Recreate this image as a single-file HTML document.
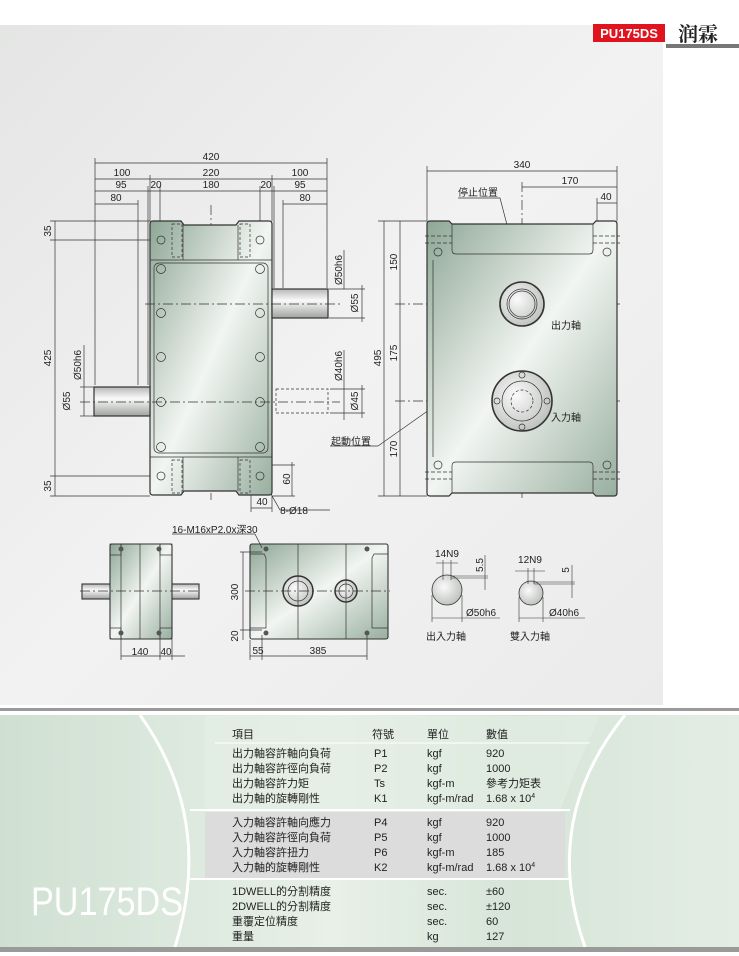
<!DOCTYPE html>
<html><head><meta charset="utf-8"><style>
html,body{margin:0;padding:0;background:#fff;}
svg{display:block;}
text{font-family:"Liberation Sans","Noto Sans CJK TC",sans-serif;}
</style></head><body>
<svg width="739" height="956" viewBox="0 0 739 956" xmlns="http://www.w3.org/2000/svg">
<defs>
<linearGradient id="bg" x1="0" y1="0" x2="1" y2="1">
<stop offset="0" stop-color="#e4e5e4"/><stop offset="0.5" stop-color="#f2f2f2"/><stop offset="1" stop-color="#ebebeb"/>
</linearGradient>
<linearGradient id="body" x1="0" y1="0" x2="1" y2="1">
<stop offset="0" stop-color="#8ea795"/><stop offset="0.5" stop-color="#f2f5f2"/><stop offset="1" stop-color="#98af9f"/>
</linearGradient>
<linearGradient id="shaft" x1="0" y1="0" x2="0" y2="1">
<stop offset="0" stop-color="#b5b8b5"/><stop offset="0.4" stop-color="#fafafa"/><stop offset="1" stop-color="#9fa39f"/>
</linearGradient>
<radialGradient id="circ" cx="0.4" cy="0.4" r="0.7">
<stop offset="0" stop-color="#fafafa"/><stop offset="1" stop-color="#b8bcb8"/>
</radialGradient>
<linearGradient id="tbl" x1="0" y1="0" x2="1" y2="0">
<stop offset="0" stop-color="#cfe0d2"/><stop offset="0.45" stop-color="#e8f0e8"/><stop offset="0.7" stop-color="#d6e5d8"/><stop offset="1" stop-color="#e4ede4"/>
</linearGradient>
</defs>

<rect x="0" y="25" width="663" height="680" fill="url(#bg)"/>
<rect x="593" y="24" width="72" height="18" fill="#e0141e"/>
<text x="629" y="38" font-size="13" font-weight="bold" fill="#fff" text-anchor="middle">PU175DS</text>
<text x="678" y="41" font-size="20" font-weight="bold" fill="#222" style="font-family:'Noto Serif CJK SC',serif">润霖</text>
<rect x="666" y="44" width="73" height="4" fill="#777"/>

<g stroke="#333" stroke-width="0.7" fill="none" font-size="10">
<line x1="95" y1="163" x2="327" y2="163"/>
<line x1="95" y1="179" x2="327" y2="179"/>
<line x1="95" y1="191" x2="327" y2="191"/>
<line x1="95" y1="204" x2="138" y2="204"/><line x1="283" y1="204" x2="327" y2="204"/>
<line x1="95" y1="158" x2="95" y2="385"/><line x1="327" y1="158" x2="327" y2="288"/>
<line x1="150" y1="175" x2="150" y2="221"/><line x1="272" y1="175" x2="272" y2="221"/>
<line x1="148" y1="186" x2="148" y2="385"/><line x1="274" y1="186" x2="274" y2="288"/>
<line x1="160" y1="186" x2="160" y2="235"/><line x1="260" y1="186" x2="260" y2="235"/>
<line x1="138" y1="200" x2="138" y2="385"/><line x1="283" y1="200" x2="283" y2="288"/>
<line x1="211" y1="205" x2="211" y2="500" stroke-dasharray="10 3 2 3"/>
<line x1="55" y1="221" x2="55" y2="496"/>
<line x1="50" y1="221" x2="150" y2="221"/><line x1="50" y1="240" x2="158" y2="240"/>
<line x1="50" y1="476" x2="158" y2="476"/><line x1="50" y1="496" x2="150" y2="496"/>
<line x1="84" y1="387" x2="84" y2="416"/><line x1="80" y1="387" x2="94" y2="387"/><line x1="80" y1="416" x2="94" y2="416"/>
<line x1="84" y1="345" x2="84" y2="387"/>
<line x1="329" y1="289" x2="365" y2="289"/><line x1="329" y1="318" x2="365" y2="318"/>
<line x1="362" y1="285" x2="362" y2="322"/><line x1="344" y1="250" x2="344" y2="289"/>
<line x1="330" y1="389" x2="365" y2="389"/><line x1="330" y1="413" x2="365" y2="413"/>
<line x1="362" y1="385" x2="362" y2="418"/><line x1="344" y1="350" x2="344" y2="420"/>
<line x1="261" y1="465" x2="295" y2="465"/><line x1="292" y1="462" x2="292" y2="496"/><line x1="272" y1="496" x2="295" y2="496"/>
<line x1="251" y1="485" x2="251" y2="512"/><line x1="272" y1="496" x2="272" y2="512"/><line x1="251" y1="508" x2="272" y2="508"/>
<polyline points="262,478 280,510 330,510"/>
<line x1="330" y1="446" x2="378" y2="446"/>
<polyline points="378,446 490,367 514,390"/>
</g>

<g stroke="#333" stroke-width="1.2">
<path d="M150,224 Q150,221 153,221 L181,221 L184,225 L236,225 L239,221 L269,221 Q272,221 272,224 L272,492 Q272,495 269,495 L239,495 L236,491 L184,491 L181,495 L153,495 Q150,495 150,492 Z" fill="url(#body)"/>
<rect x="94" y="387" width="56" height="29" fill="url(#shaft)"/>
<rect x="272" y="289" width="56" height="29" fill="url(#shaft)"/>
</g>
<g stroke="#333" stroke-width="0.7" fill="none">
<line x1="150" y1="260" x2="272" y2="260"/><line x1="150" y1="457" x2="272" y2="457"/>
<line x1="183" y1="225" x2="183" y2="260"/><line x1="238" y1="225" x2="238" y2="260"/>
<line x1="183" y1="457" x2="183" y2="491"/><line x1="238" y1="457" x2="238" y2="491"/>
<rect x="154" y="263" width="114" height="190" rx="5"/>
<g stroke-dasharray="3 2"><rect x="172" y="224" width="10" height="33"/><rect x="240" y="224" width="10" height="33"/><rect x="172" y="460" width="10" height="33"/><rect x="240" y="460" width="10" height="33"/>
<rect x="276" y="389" width="52" height="24"/></g>
<line x1="80" y1="402" x2="340" y2="402" stroke-dasharray="10 3 2 3"/>
<line x1="145" y1="304" x2="340" y2="304" stroke-dasharray="10 3 2 3"/>
<g><circle cx="161" cy="269" r="4.5"/><circle cx="260" cy="269" r="4.5"/><circle cx="161" cy="313" r="4.5"/><circle cx="260" cy="313" r="4.5"/><circle cx="161" cy="357" r="4.5"/><circle cx="260" cy="357" r="4.5"/><circle cx="161" cy="402" r="4.5"/><circle cx="260" cy="402" r="4.5"/><circle cx="161" cy="447" r="4.5"/><circle cx="260" cy="447" r="4.5"/>
<circle cx="161" cy="240" r="4"/><circle cx="260" cy="240" r="4"/><circle cx="161" cy="476" r="4"/><circle cx="260" cy="476" r="4"/></g>
</g>
<g font-size="10" fill="#222">
<text x="211" y="160" text-anchor="middle">420</text>
<text x="122" y="176" text-anchor="middle">100</text><text x="211" y="176" text-anchor="middle">220</text><text x="300" y="176" text-anchor="middle">100</text>
<text x="121" y="188" text-anchor="middle">95</text><text x="156" y="188" text-anchor="middle">20</text><text x="211" y="188" text-anchor="middle">180</text><text x="266" y="188" text-anchor="middle">20</text><text x="300" y="188" text-anchor="middle">95</text>
<text x="116" y="201" text-anchor="middle">80</text><text x="305" y="201" text-anchor="middle">80</text>
<text transform="translate(51,231) rotate(-90)" text-anchor="middle">35</text>
<text transform="translate(51,358) rotate(-90)" text-anchor="middle">425</text>
<text transform="translate(51,486) rotate(-90)" text-anchor="middle">35</text>
<text transform="translate(81,365) rotate(-90)" text-anchor="middle">Ø50h6</text>
<text transform="translate(70,401) rotate(-90)" text-anchor="middle">Ø55</text>
<text transform="translate(342,270) rotate(-90)" text-anchor="middle">Ø50h6</text>
<text transform="translate(358,303) rotate(-90)" text-anchor="middle">Ø55</text>
<text transform="translate(342,366) rotate(-90)" text-anchor="middle">Ø40h6</text>
<text transform="translate(358,401) rotate(-90)" text-anchor="middle">Ø45</text>
<text transform="translate(290,479) rotate(-90)" text-anchor="middle">60</text>
<text x="262" y="505" text-anchor="middle">40</text>
<text x="294" y="514" text-anchor="middle">8-Ø18</text>
<text x="331" y="445">起動位置</text>
</g>

<g stroke="#333" stroke-width="0.7" fill="none">
<line x1="427" y1="171" x2="617" y2="171"/><line x1="522" y1="187" x2="617" y2="187"/><line x1="597" y1="203" x2="617" y2="203"/>
<line x1="427" y1="166" x2="427" y2="221"/><line x1="617" y1="166" x2="617" y2="221"/><line x1="522" y1="182" x2="522" y2="500" stroke-dasharray="10 3 2 3"/><line x1="597" y1="198" x2="597" y2="221"/>
<line x1="384" y1="221" x2="384" y2="496"/><line x1="400" y1="221" x2="400" y2="496"/>
<line x1="378" y1="221" x2="427" y2="221"/><line x1="378" y1="496" x2="427" y2="496"/>
<line x1="395" y1="304" x2="620" y2="304" stroke-dasharray="10 3 2 3"/>
<line x1="395" y1="401" x2="620" y2="401" stroke-dasharray="10 3 2 3"/>
<polyline points="458,198 500,198 522,282"/>
</g>
<g stroke="#333" stroke-width="1.2">
<path d="M427,224 Q427,221 430,221 L449,221 L452,224 L593,224 L596,221 L614,221 Q617,221 617,224 L617,493 Q617,496 614,496 L596,496 L593,493 L452,493 L449,496 L430,496 Q427,496 427,493 Z" fill="url(#body)"/>
<circle cx="522" cy="304" r="22" fill="url(#circ)" stroke-width="1.6"/>
<circle cx="522" cy="401" r="30" fill="url(#circ)" stroke-width="1.6"/>
</g>
<g stroke="#333" stroke-width="0.7" fill="none">
<path d="M452,224 L452,250 Q452,254 456,254 L589,254 Q593,254 593,250 L593,224"/>
<path d="M452,493 L452,466 Q452,462 456,462 L589,462 Q593,462 593,466 L593,493"/>
<line x1="433" y1="260" x2="433" y2="457"/>
<circle cx="522" cy="304" r="15"/><circle cx="522" cy="304" r="13"/>
<circle cx="522" cy="401" r="20"/><circle cx="522" cy="401" r="11" stroke-dasharray="3 2"/>
<circle cx="522" cy="375" r="3"/><circle cx="522" cy="427" r="3"/><circle cx="497" cy="401" r="3"/><circle cx="547" cy="401" r="3"/>
<circle cx="438" cy="252" r="4"/><circle cx="607" cy="252" r="4"/><circle cx="438" cy="465" r="4"/><circle cx="607" cy="465" r="4"/>
<g stroke-dasharray="4 2"><line x1="425" y1="236" x2="452" y2="236"/><line x1="425" y1="243" x2="452" y2="243"/><line x1="593" y1="236" x2="620" y2="236"/><line x1="593" y1="243" x2="620" y2="243"/>
<line x1="425" y1="472" x2="452" y2="472"/><line x1="425" y1="479" x2="452" y2="479"/><line x1="593" y1="472" x2="620" y2="472"/><line x1="593" y1="479" x2="620" y2="479"/></g>
</g>
<g font-size="10" fill="#222">
<text x="522" y="168" text-anchor="middle">340</text><text x="570" y="184" text-anchor="middle">170</text><text x="606" y="200" text-anchor="middle">40</text>
<text x="458" y="196">停止位置</text>
<text transform="translate(381,358) rotate(-90)" text-anchor="middle">495</text>
<text transform="translate(397,262) rotate(-90)" text-anchor="middle">150</text>
<text transform="translate(397,353) rotate(-90)" text-anchor="middle">175</text>
<text transform="translate(397,449) rotate(-90)" text-anchor="middle">170</text>
<text x="551" y="329">出力軸</text><text x="551" y="421">入力軸</text>
</g>

<g stroke="#333" stroke-width="1.1">
<rect x="82" y="584" width="117" height="15" fill="url(#shaft)"/>
<rect x="110" y="544" width="62" height="95" rx="2" fill="url(#body)"/>
</g>
<g stroke="#333" stroke-width="0.7" fill="none">
<line x1="121" y1="544" x2="121" y2="660"/><line x1="140" y1="544" x2="140" y2="639"/><line x1="160" y1="544" x2="160" y2="660"/><line x1="172" y1="639" x2="172" y2="660"/>
<line x1="121" y1="656" x2="185" y2="656"/><line x1="80" y1="591" x2="200" y2="591" stroke-dasharray="10 3 2 3"/>
<rect x="110" y="544" width="11" height="11"/><rect x="160" y="544" width="12" height="11"/><rect x="110" y="628" width="11" height="11"/><rect x="160" y="628" width="12" height="11"/>
</g>
<g fill="#555"><circle cx="121" cy="549" r="2.5"/><circle cx="159" cy="549" r="2.5"/><circle cx="121" cy="633" r="2.5"/><circle cx="159" cy="633" r="2.5"/></g>
<g stroke="#333" stroke-width="1.1">
<rect x="250" y="544" width="138" height="95" rx="2" fill="url(#body)"/>
<circle cx="298" cy="591" r="15" fill="url(#circ)" stroke-width="1.5"/><circle cx="346" cy="591" r="11" fill="url(#circ)" stroke-width="1.5"/>
</g>
<g stroke="#333" stroke-width="0.7" fill="none">
<path d="M250,554 L264,554 L266,558 L266,628 L250,628"/><path d="M388,554 L374,554 L372,558 L372,628 L388,628"/>
<line x1="298" y1="544" x2="298" y2="639"/><line x1="346" y1="544" x2="346" y2="639"/>
<line x1="245" y1="591" x2="390" y2="591" stroke-dasharray="10 3 2 3"/>
<circle cx="298" cy="591" r="10"/><circle cx="346" cy="591" r="7"/>
<line x1="243" y1="552" x2="243" y2="640"/><line x1="240" y1="552" x2="262" y2="552"/><line x1="240" y1="630" x2="262" y2="630"/>
<line x1="250" y1="640" x2="250" y2="660"/><line x1="262" y1="635" x2="262" y2="660"/><line x1="367" y1="635" x2="367" y2="660"/>
<line x1="250" y1="656" x2="367" y2="656"/>
<line x1="262" y1="548" x2="255" y2="534"/><line x1="172" y1="534" x2="255" y2="534"/>
</g>
<g fill="#555"><circle cx="266" cy="549" r="2.5"/><circle cx="367" cy="549" r="2.5"/><circle cx="266" cy="633" r="2.5"/><circle cx="367" cy="633" r="2.5"/></g>
<g stroke="#333" stroke-width="0.8">
<circle cx="447" cy="590" r="15" fill="url(#circ)"/><circle cx="531" cy="593" r="12" fill="url(#circ)"/>
</g>
<g stroke="#333" stroke-width="0.6" fill="none">
<line x1="443" y1="560" x2="443" y2="580"/><line x1="451" y1="560" x2="451" y2="580"/><line x1="436" y1="563" x2="458" y2="563"/>
<line x1="451" y1="576" x2="488" y2="576"/><line x1="451" y1="578" x2="488" y2="578"/><line x1="485" y1="555" x2="485" y2="590"/>
<line x1="432" y1="595" x2="432" y2="622"/><line x1="462" y1="595" x2="462" y2="622"/><line x1="432" y1="618" x2="500" y2="618"/>
<line x1="528" y1="568" x2="528" y2="584"/><line x1="534" y1="568" x2="534" y2="584"/><line x1="515" y1="571" x2="545" y2="571"/>
<line x1="534" y1="582" x2="575" y2="582"/><line x1="534" y1="584" x2="575" y2="584"/><line x1="572" y1="565" x2="572" y2="598"/>
<line x1="519" y1="597" x2="519" y2="622"/><line x1="543" y1="597" x2="543" y2="622"/><line x1="519" y1="618" x2="585" y2="618"/>
</g>
<g font-size="10" fill="#222">
<text x="172" y="533">16-M16xP2.0x深30</text>
<text x="140" y="655" text-anchor="middle">140</text><text x="166" y="655" text-anchor="middle">40</text>
<text transform="translate(238,592) rotate(-90)" text-anchor="middle">300</text>
<text transform="translate(238,636) rotate(-90)" text-anchor="middle">20</text>
<text x="258" y="654" text-anchor="middle">55</text><text x="318" y="654" text-anchor="middle">385</text>
<text x="447" y="557" text-anchor="middle">14N9</text>
<text transform="translate(483,565) rotate(-90)" text-anchor="middle">5.5</text>
<text x="466" y="616">Ø50h6</text>
<text x="530" y="563" text-anchor="middle">12N9</text>
<text transform="translate(569,570) rotate(-90)" text-anchor="middle">5</text>
<text x="549" y="616">Ø40h6</text>
<text x="426" y="640">出入力軸</text><text x="510" y="640">雙入力軸</text>
</g>

<rect x="0" y="708" width="739" height="3" fill="#9a9a9a"/>
<rect x="0" y="715" width="739" height="232" fill="url(#tbl)"/>
<path d="M205,716 L600,716 Q570,780 560,812 L205,812 Z" fill="#e4eee4" opacity="0.6"/>
<rect x="205" y="812" width="360" height="66" fill="#dcdcdc"/>
<path d="M140,715 Q215,820 175,947" stroke="#fff" stroke-width="3" fill="none"/>
<path d="M625,715 Q540,820 585,947" stroke="#fff" stroke-width="3" fill="none"/>
<line x1="215" y1="743" x2="590" y2="743" stroke="#fff" stroke-width="1"/>
<line x1="190" y1="810" x2="570" y2="810" stroke="#fff" stroke-width="2"/>
<line x1="190" y1="879" x2="570" y2="879" stroke="#fff" stroke-width="2"/>
<rect x="0" y="947" width="739" height="5" fill="#9a9a9a"/>
<text x="107" y="915" font-size="40" fill="#fff" text-anchor="middle" style="font-family:'Liberation Sans Narrow','Liberation Sans',sans-serif" textLength="152" lengthAdjust="spacingAndGlyphs">PU175DS</text>
<g font-size="11" fill="#222">
<text x="232" y="738">項目</text><text x="372" y="738">符號</text><text x="427" y="738">單位</text><text x="486" y="738">數值</text>
<text x="232" y="757">出力軸容許軸向負荷</text><text x="374" y="757">P1</text><text x="427" y="757">kgf</text><text x="486" y="757">920</text>
<text x="232" y="772">出力軸容許徑向負荷</text><text x="374" y="772">P2</text><text x="427" y="772">kgf</text><text x="486" y="772">1000</text>
<text x="232" y="787">出力軸容許力矩</text><text x="374" y="787">Ts</text><text x="427" y="787">kgf-m</text><text x="486" y="787">參考力矩表</text>
<text x="232" y="802">出力軸的旋轉剛性</text><text x="374" y="802">K1</text><text x="427" y="802">kgf-m/rad</text><text x="486" y="802">1.68 x 10<tspan font-size="7" dy="-4">4</tspan></text>
<text x="232" y="826">入力軸容許軸向應力</text><text x="374" y="826">P4</text><text x="427" y="826">kgf</text><text x="486" y="826">920</text>
<text x="232" y="841">入力軸容許徑向負荷</text><text x="374" y="841">P5</text><text x="427" y="841">kgf</text><text x="486" y="841">1000</text>
<text x="232" y="856">入力軸容許扭力</text><text x="374" y="856">P6</text><text x="427" y="856">kgf-m</text><text x="486" y="856">185</text>
<text x="232" y="871">入力軸的旋轉剛性</text><text x="374" y="871">K2</text><text x="427" y="871">kgf-m/rad</text><text x="486" y="871">1.68 x 10<tspan font-size="7" dy="-4">4</tspan></text>
<text x="232" y="895">1DWELL的分割精度</text><text x="427" y="895">sec.</text><text x="486" y="895">±60</text>
<text x="232" y="910">2DWELL的分割精度</text><text x="427" y="910">sec.</text><text x="486" y="910">±120</text>
<text x="232" y="925">重覆定位精度</text><text x="427" y="925">sec.</text><text x="486" y="925">60</text>
<text x="232" y="940">重量</text><text x="427" y="940">kg</text><text x="486" y="940">127</text>
</g>
</svg>
</body></html>
